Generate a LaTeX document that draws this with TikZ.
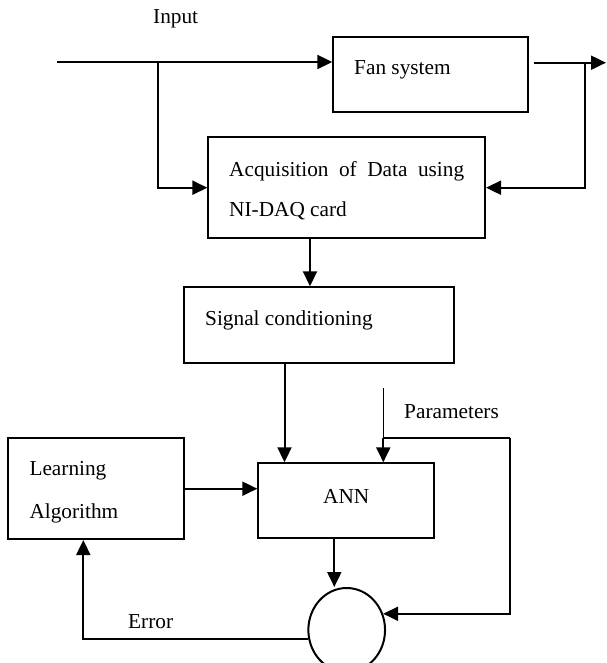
\documentclass[tikz,border=0pt]{standalone}
\usepackage{fontspec}
\setmainfont{Liberation Serif}
\usetikzlibrary{arrows.meta,shapes.geometric}
\begin{document}
\begin{tikzpicture}[x=1pt,y=-1pt,
  box/.style={draw,line width=2pt,rectangle,inner sep=0pt},
  lbl/.style={inner sep=0pt,anchor=west,font=\fontsize{21.3}{25}\selectfont},
  arr/.style={line width=2pt,-{Triangle[length=15pt,width=14pt]}},
  conn/.style={line width=2pt}]
\path[use as bounding box] (0,0) rectangle (606,663);
\clip (0,0) rectangle (606,663);
% boxes
\node[box,minimum width=194.4pt,minimum height=75pt] (fan) at (430.5,74.2) {};
\node[box,minimum width=276.7pt,minimum height=100.7pt] (acq) at (346.7,187.7) {};
\node[box,minimum width=270pt,minimum height=76pt] (sig) at (319,325.3) {};
\node[box,minimum width=176.3pt,minimum height=100.7pt] (learn) at (95.8,488.7) {};
\node[box,minimum width=176pt,minimum height=75pt] (ann) at (346.3,500.8) {};
\node[draw,line width=2pt,ellipse,inner sep=0pt,minimum width=76.7pt,minimum height=84pt] (circ) at (346.7,630) {};
% texts
\node[lbl] (tin) at (153,19) {Input};
\node[lbl] (tfan) at (354,69.5) {Fan system};
\node[lbl] (tacq1) at (229,171) {\makebox[235pt][s]{Acquisition of Data using}};
\node[lbl] (tacq2) at (229,211) {NI-DAQ card};
\node[lbl] (tsig) at (205,320.7) {Signal conditioning};
\node[lbl] (tpar) at (404,411.7) {Parameters};
\node[lbl] (tl1) at (29.3,470.7) {Learning};
\node[lbl] (tl2) at (29.3,513.3) {Algorithm};
\node[lbl,anchor=center] (tann) at (ann.center |- 0,496.7) {ANN};
\node[lbl] (terr) at (128,621.7) {Error};
% coordinates
\coordinate (inL) at (57.3,62);
\coordinate (br1) at (158.3,62);
\coordinate (outS) at (534.3,62.7);
\coordinate (outE) at (606,62.7);
\coordinate (br2) at (585,62.7);
\coordinate (xa) at (310,0);
\coordinate (xs) at (284.5,0);
\coordinate (parT) at (383.3,388.3);
\coordinate (parJ) at (383.3,438.3);
\coordinate (fbR) at (510,438.3);
\coordinate (xn) at (334.3,0);
\coordinate (xe) at (83.3,0);
% connectors
\draw[arr] (inL) -- (inL -| fan.west);
\draw[arr] (br1) |- (acq.west);
\draw[arr] (outS) -- (outE);
\draw[arr] (br2) |- (acq.east);
\draw[arr] (xa |- acq.south) -- (xa |- sig.north);
\draw[arr] (xs |- sig.south) -- (xs |- ann.north);
\draw[line width=1pt] (parT) -- (parJ);
\draw[arr] (parJ) -- (parJ |- ann.north);
\draw[conn] (parJ) -- (fbR);
\draw[arr] (fbR) |- (circ.24);
\draw[arr] (learn.east) -- (learn.east -| ann.west);
\draw[arr] (xn |- ann.south) -- (xn |- circ.north);
\draw[arr] (circ.193) -| (xe |- learn.south);
\end{tikzpicture}
\end{document}
